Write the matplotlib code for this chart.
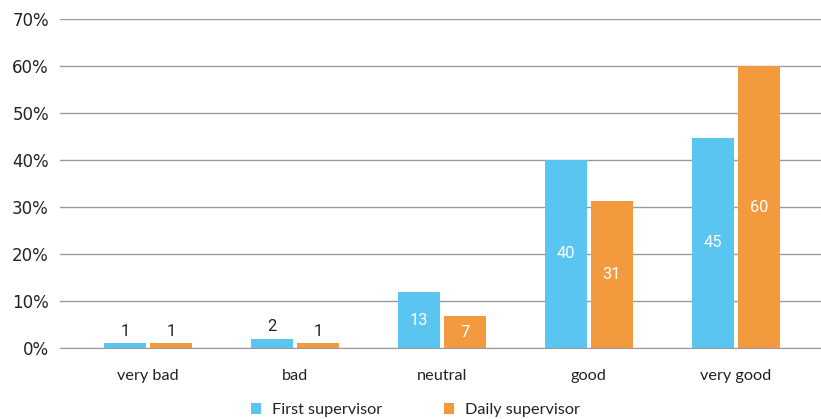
import matplotlib.pyplot as plt
import numpy as np

categories = ["very bad", "bad", "neutral", "good", "very good"]
first_heights = [1.0, 2.0, 11.9, 40.0, 44.7]
daily_heights = [1.0, 1.0, 6.8, 31.3, 60.0]
first_labels = ["1", "2", "13", "40", "45"]
daily_labels = ["1", "1", "7", "31", "60"]
series_names = ["First supervisor", "Daily supervisor"]
yticks = [0, 10, 20, 30, 40, 50, 60, 70]

BLUE = "#5bc5f2"
ORANGE = "#f39a3e"
GRID = "#9a9a9a"
TEXT = "#222222"


def label_bars(ax, xs, heights, labels):
    for x, h, lab in zip(xs, heights, labels):
        if h > 5:
            ax.text(x, h / 2, lab, ha="center", va="center", color="white",
                    fontsize=11.8, family="Roboto", zorder=4)
        else:
            ax.text(x, h + 0.9, lab, ha="center", va="bottom", color=TEXT,
                    fontsize=11.8, family="Roboto", zorder=4)


def main() -> None:
    fig = plt.figure(figsize=(8.21, 4.19), dpi=100)
    ax = fig.add_axes([60 / 821, 1 - 348 / 419, 1 - 60 / 821, (348 - 19) / 419])

    x = np.arange(len(categories))
    w = 0.286
    off = 0.157
    b1 = ax.bar(x - off, first_heights, w, color=BLUE, zorder=3, label=series_names[0])
    b2 = ax.bar(x + off, daily_heights, w, color=ORANGE, zorder=3, label=series_names[1])
    label_bars(ax, x - off, first_heights, first_labels)
    label_bars(ax, x + off, daily_heights, daily_labels)

    ax.set_xlim(-0.6, 4.58)
    ax.set_ylim(0, 70)
    ax.set_yticks(yticks)
    ax.set_yticklabels([f"{t}%" for t in yticks], family="DejaVu Sans", fontsize=12, color=TEXT)
    ax.set_xticks(x)
    ax.set_xticklabels(categories, family="Lato", fontsize=11.7, color=TEXT)
    ax.tick_params(axis="both", length=0)
    ax.tick_params(axis="y", pad=8)
    ax.tick_params(axis="x", pad=15)
    ax.grid(axis="y", color=GRID, linewidth=1, zorder=0)
    for side in ["top", "right", "left"]:
        ax.spines[side].set_visible(False)
    ax.spines["bottom"].set_color(GRID)
    ax.spines["bottom"].set_zorder(5)

    leg = fig.legend(handles=[b1, b2], loc="center", bbox_to_anchor=(415 / 821, 1 - 410 / 419),
                     ncol=2, frameon=False, handlelength=0.62, handleheight=0.62,
                     handletextpad=0.68, columnspacing=3.8,
                     prop={"family": "Lato", "size": 11.7})
    for t in leg.get_texts():
        t.set_color(TEXT)

    fig.savefig("out.png", dpi=100)
    plt.close(fig)


if __name__ == "__main__":
    main()
